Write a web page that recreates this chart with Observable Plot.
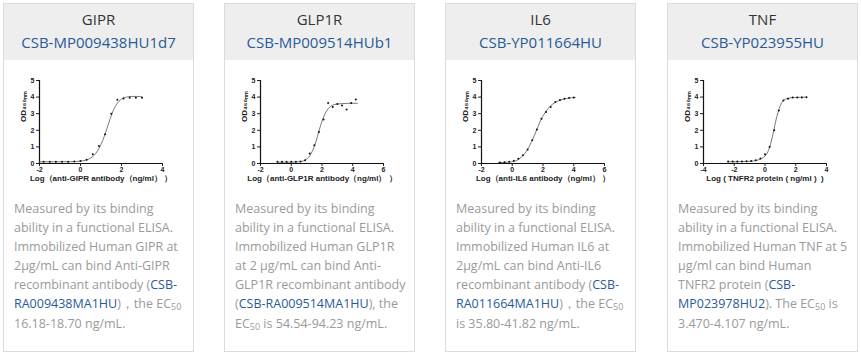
<!DOCTYPE html>
<html><head><meta charset="utf-8">
<script src="https://cdn.jsdelivr.net/npm/d3@7"></script>
<script src="https://cdn.jsdelivr.net/npm/@observablehq/plot@0.6"></script>
<style>
body{margin:0;background:#fff;width:861px;height:358px;position:relative;overflow:hidden;font-family:"Open Sans",sans-serif;}
.card{position:absolute;top:3px;width:189px;height:347px;border:1px solid #dcdcdc;background:#fff;}
.head{height:56px;background:#eeeeee;text-align:center;}
.gene{font-size:15px;color:#333;padding-top:5px;line-height:20px}
.code{font-size:15px;color:#2a5a96;line-height:20px;margin-top:3px}
.chart{position:absolute;top:64px;left:0}
.desc{position:absolute;top:195px;left:10px;font-size:12.5px;line-height:19.1px;color:#9a9a9a;white-space:nowrap}
.desc a{color:#2a5a96;text-decoration:none}
.desc sub{font-size:9px;line-height:0;vertical-align:-2px}
</style>
</head><body>
<script>
const genes = ["GIPR","GLP1R","IL6","TNF"];
const codes = ["CSB-MP009438HU1d7","CSB-MP009514HUb1","CSB-YP011664HU","CSB-YP023955HU"];
const cardLefts = [3,224,445,667];
const xTicks = [[-2,0,2,4],[-2,0,2,4,6],[-2,0,2,4,6],[-4,-2,0,2,4]];
const yTicks = [0,1,2,3,4,5];
const xLabels = ["Log（anti-GIPR antibody（ng/ml） ）","Log（anti-GLP1R antibody（ng/ml） ）","Log（anti-IL6 antibody（ng/ml） ）","Log ( TNFR2 protein ( ng/ml )  )"];
const yLabel = "OD₄₅₀ₙₘ";

const gipr_x = [-1.8,-1.5,-1.2,-0.9,-0.6,-0.3,0,0.3,0.6,0.9,1.2,1.5,1.8,2.1,2.4,2.7,3.0];
const gipr_y = [0.1,0.1,0.1,0.1,0.1,0.12,0.15,0.22,0.55,1.06,1.76,3.0,3.84,3.92,3.96,3.96,3.96];
const gipr_fit_x = [-2,-1,-0.5,0,0.25,0.5,0.75,1.0,1.15,1.3,1.45,1.6,1.75,2.0,2.25,2.5,2.75,3.0];
const gipr_fit_y = [0.1,0.1,0.11,0.14,0.2,0.33,0.62,1.15,1.6,2.15,2.7,3.2,3.55,3.88,4.0,4.04,4.04,4.02];

const glp1r_x = [-0.9,-0.6,-0.3,0,0.3,0.6,0.9,1.2,1.5,1.8,2.1,2.4,2.7,3.0,3.3,3.6,3.9,4.2];
const glp1r_y = [0.1,0.1,0.1,0.1,0.1,0.12,0.2,0.6,1.1,1.9,2.65,3.65,3.4,3.58,3.5,3.25,3.64,3.86];
const glp1r_fit_x = [-0.9,0,0.5,0.9,1.2,1.4,1.6,1.8,2.0,2.2,2.4,2.6,2.8,3.2,3.6,4.3];
const glp1r_fit_y = [0.08,0.08,0.1,0.2,0.45,0.8,1.3,1.95,2.55,3.0,3.3,3.47,3.55,3.6,3.62,3.63];

const il6_x = [-0.8,-0.5,-0.2,0.1,0.4,0.7,1.0,1.3,1.6,1.9,2.2,2.5,2.8,3.1,3.4,3.7,4.0];
const il6_y = [0.06,0.08,0.1,0.16,0.28,0.5,0.85,1.4,2.05,2.7,3.1,3.4,3.7,3.82,3.9,3.95,3.98];
const il6_fit_x = [-0.9,-0.3,0.2,0.6,1.0,1.3,1.6,1.9,2.2,2.5,2.8,3.2,3.6,4.1];
const il6_fit_y = [0.05,0.08,0.15,0.4,0.85,1.4,2.05,2.7,3.15,3.48,3.68,3.84,3.93,3.98];

const tnf_x = [-2.4,-2.1,-1.8,-1.5,-1.2,-0.9,-0.6,-0.3,0.0,0.3,0.6,0.9,1.2,1.5,1.8,2.1,2.4,2.7];
const tnf_y = [0.12,0.12,0.12,0.12,0.13,0.15,0.2,0.3,0.55,1.0,2.0,3.2,3.8,3.9,3.97,3.98,3.98,3.99];
const tnf_fit_x = [-2.4,-1.0,-0.5,0,0.25,0.4,0.55,0.7,0.85,1.0,1.2,1.5,2.0,2.7];
const tnf_fit_y = [0.1,0.13,0.2,0.45,0.85,1.3,1.9,2.55,3.1,3.5,3.8,3.93,3.98,4.0];

const descs = [
 'Measured by its binding<br>ability in a functional ELISA.<br>Immobilized Human GIPR at<br>2μg/mL can bind Anti-GIPR<br>recombinant antibody (<a>CSB-<br>RA009438MA1HU</a>)，the EC<sub>50</sub><br>16.18-18.70 ng/mL.',
 'Measured by its binding<br>ability in a functional ELISA.<br>Immobilized Human GLP1R<br>at 2 μg/mL can bind Anti-<br>GLP1R recombinant antibody<br>(<a>CSB-RA009514MA1HU</a>), the<br>EC<sub>50</sub> is 54.54-94.23 ng/mL.',
 'Measured by its binding<br>ability in a functional ELISA.<br>Immobilized Human IL6 at<br>2μg/mL can bind Anti-IL6<br>recombinant antibody (<a>CSB-<br>RA011664MA1HU</a>)，the EC<sub>50</sub><br>is 35.80-41.82 ng/mL.',
 'Measured by its binding<br>ability in a functional ELISA.<br>Immobilized Human TNF at 5<br>μg/ml can bind Human<br>TNFR2 protein (<a>CSB-<br>MP023978HU2</a>). The EC<sub>50</sub> is<br>3.470-4.107 ng/mL.'
];

const series = [
 [gipr_x,gipr_y,gipr_fit_x,gipr_fit_y],
 [glp1r_x,glp1r_y,glp1r_fit_x,glp1r_fit_y],
 [il6_x,il6_y,il6_fit_x,il6_fit_y],
 [tnf_x,tnf_y,tnf_fit_x,tnf_fit_y]
];

function chart(i){
  const [px,py,fx,fy] = series[i];
  const ticks = xTicks[i];
  const dom = [ticks[0], ticks[ticks.length-1]];
  const pts = px.map((x,k)=>({x, y:py[k]}));
  const fit = fx.map((x,k)=>({x, y:fy[k]}));
  return Plot.plot({
    width:189, height:125, marginLeft:35, marginRight:31, marginTop:12, marginBottom:30,
    x:{domain:dom, ticks:ticks, tickSize:3, tickPadding:1, tickFormat:d=>String(d), label:null},
    y:{domain:[0,5], ticks:yTicks, tickSize:3, tickPadding:2, tickFormat:d=>String(d), label:null},
    style:{fontFamily:"Liberation Sans, Arial, sans-serif", fontSize:"7px", fontWeight:"bold", color:"#222", background:"transparent", overflow:"visible"},
    marks:[
      Plot.ruleY([0],{stroke:"#111",strokeWidth:1.2}),
      Plot.ruleX([dom[0]],{stroke:"#111",strokeWidth:1.2}),
      Plot.line(fit,{x:"x",y:"y",curve:"monotone-x",stroke:"#555",strokeWidth:0.8}),
      Plot.dot(pts,{x:"x",y:"y",r:1,fill:"#111",stroke:null}),
      Plot.text([xLabels[i]],{frameAnchor:"bottom",text:d=>d,dy:17,fontSize:8,fontWeight:"bold",fill:"#222"}),
      Plot.text([yLabel],{frameAnchor:"left",text:d=>d,rotate:-90,dx:-16,fontSize:8,fontWeight:"bold",fill:"#222"})
    ]
  });
}

genes.forEach((g,i)=>{
  const card = document.createElement("div");
  card.className = "card";
  card.style.left = cardLefts[i]+"px";
  card.innerHTML = `<div class="head"><div class="gene">${g}</div><div class="code">${codes[i]}</div></div><div class="desc">${descs[i]}</div>`;
  const c = document.createElement("div");
  c.className = "chart";
  c.appendChild(chart(i));
  card.appendChild(c);
  document.body.appendChild(card);
});
</script>
</body></html>
